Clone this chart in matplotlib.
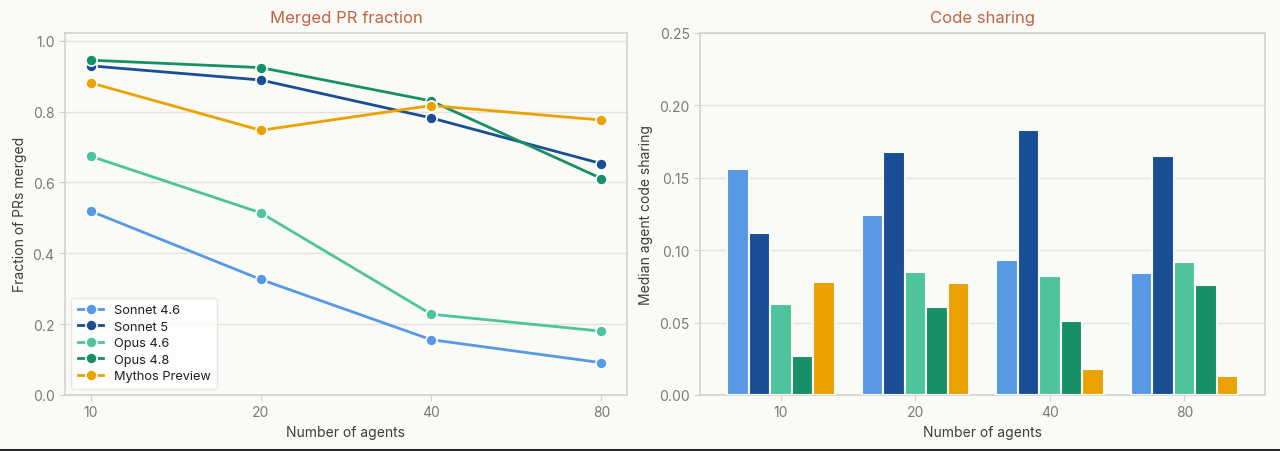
import matplotlib
matplotlib.use("Agg")
from matplotlib import pyplot as plt
import numpy as np

# data
agents = ["10", "20", "40", "80"]
models = ["Sonnet 4.6", "Sonnet 5", "Opus 4.6", "Opus 4.8", "Mythos Preview"]
colors = ["#5799E4", "#1A4E94", "#4EC49C", "#178F67", "#EBA200"]

merged_sonnet46 = [0.519, 0.326, 0.156, 0.091]
merged_sonnet5 = [0.929, 0.889, 0.782, 0.653]
merged_opus46 = [0.674, 0.514, 0.228, 0.180]
merged_opus48 = [0.945, 0.924, 0.830, 0.611]
merged_mythos = [0.881, 0.747, 0.817, 0.776]

share_sonnet46 = [0.156, 0.124, 0.093, 0.084]
share_sonnet5 = [0.112, 0.168, 0.183, 0.165]
share_opus46 = [0.063, 0.085, 0.082, 0.092]
share_opus48 = [0.027, 0.061, 0.051, 0.076]
share_mythos = [0.078, 0.077, 0.018, 0.013]

merged = [merged_sonnet46, merged_sonnet5, merged_opus46, merged_opus48, merged_mythos]
share = [share_sonnet46, share_sonnet5, share_opus46, share_opus48, share_mythos]

bg = "#FAFAF7"
grid_c = "#E3E2DC"
spine_c = "#D3D2CC"
text_c = "#3D3D3A"
tick_c = "#7A7975"
title_c = "#BF6446"

plt.rcParams["font.family"] = ["Inter", "DejaVu Sans"]

fig = plt.figure(figsize=(12.8, 4.52), dpi=100, facecolor=bg)
ax1 = fig.add_axes([0.0508, 0.124, 0.439, 0.801])
ax2 = fig.add_axes([0.547, 0.124, 0.4414, 0.801])

x = np.arange(len(agents))

for vals, name, c in zip(merged, models, colors):
    ax1.plot(x, vals, color=c, lw=2, marker="o", ms=8, mec="white", mew=1.2, label=name)

ax1.set_xlim(-0.15, 3.15)
ax1.set_ylim(0, 1.022)
ax1.set_yticks([0, 0.2, 0.4, 0.6, 0.8, 1.0])
ax1.set_xticks(x)
ax1.set_xticklabels(agents)
ax1.set_xlabel("Number of agents", color=text_c, fontsize=10)
ax1.set_ylabel("Fraction of PRs merged", color=text_c, fontsize=10)
ax1.set_title("Merged PR fraction", color=title_c, fontsize=12, pad=8)
leg = ax1.legend(loc="lower left", fontsize=9.2, frameon=True, borderpad=0.5,
                 handlelength=2.0, labelspacing=0.35, bbox_to_anchor=(0.0, 0.0))
leg.get_frame().set_edgecolor(grid_c)
leg.get_frame().set_facecolor("white")
for t in leg.get_texts():
    t.set_color("#1F1F1E")

bw = 0.16
for i, (vals, c) in enumerate(zip(share, colors)):
    ax2.bar(x + (i - 2) * bw, vals, width=bw, color=c, edgecolor=bg, linewidth=1.5, zorder=3)

ax2.set_xlim(-0.6, 3.6)
ax2.set_ylim(0, 0.25)
ax2.set_yticks([0, 0.05, 0.10, 0.15, 0.20, 0.25])
ax2.set_yticklabels(["0.00", "0.05", "0.10", "0.15", "0.20", "0.25"])
ax2.set_xticks(x)
ax2.set_xticklabels(agents)
ax2.set_xlabel("Number of agents", color=text_c, fontsize=10)
ax2.set_ylabel("Median agent code sharing", color=text_c, fontsize=10)
ax2.set_title("Code sharing", color=title_c, fontsize=12, pad=8)

for ax in (ax1, ax2):
    ax.set_facecolor(bg)
    ax.grid(axis="y", color=grid_c, lw=1, zorder=0)
    ax.set_axisbelow(True)
    for s in ax.spines.values():
        s.set_color(spine_c)
        s.set_linewidth(1.2)
    ax.tick_params(colors=spine_c, labelcolor=tick_c, labelsize=10, length=4)

# thin dark strip along the bottom edge, as in the screenshot
fig.add_artist(plt.Line2D([0, 1], [0.002, 0.002], transform=fig.transFigure,
                          color="#2A2A2A", lw=1.5))

fig.savefig("out.png", dpi=100, facecolor=bg)
